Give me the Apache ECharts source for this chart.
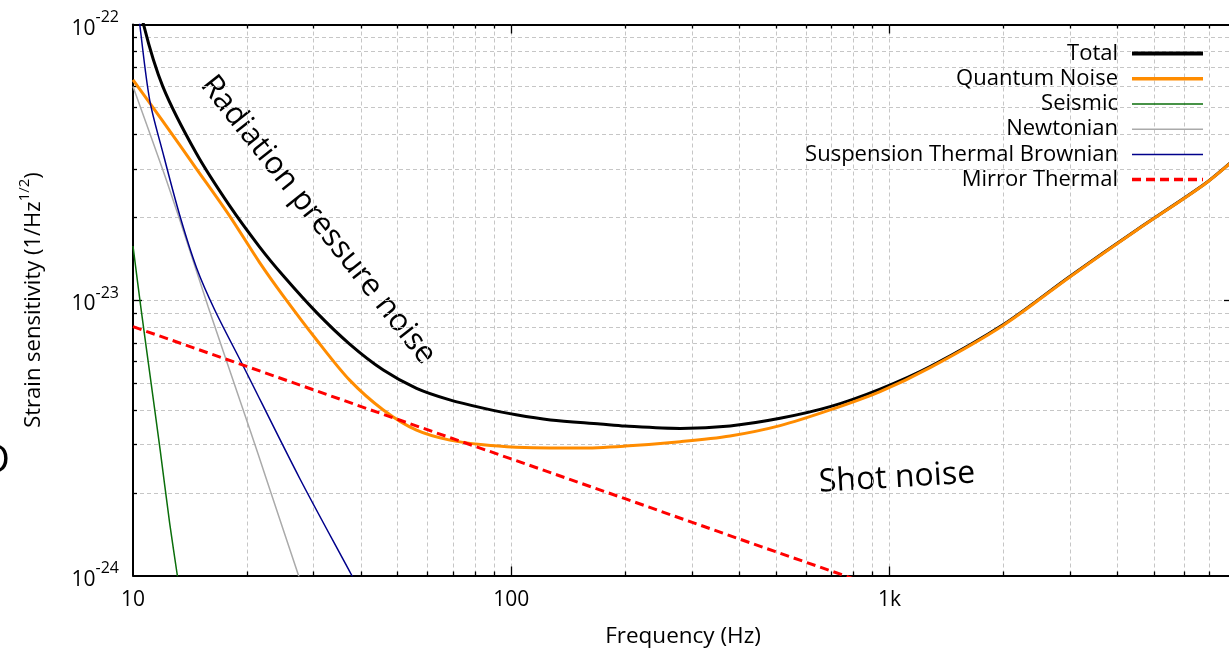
<!DOCTYPE html>
<html>
<head>
<meta charset="utf-8">
<title>Strain sensitivity</title>
<script src="https://cdn.jsdelivr.net/npm/echarts@6/dist/echarts.min.js"></script>
<style>
  html, body { margin: 0; padding: 0; background: #fff; overflow: hidden; }
  #chart { width: 1229px; height: 652px; }
</style>
</head>
<body>
<div id="chart"></div>
<script>
// strain values below are in units of 1e-24 (1/Hz^1/2); the log axis runs 1..100
const UNIT_EXP = -24;
const FONT = '"Open Sans", "Noto Sans", sans-serif';

const totalFreq = [10, 10.67, 12.0, 14.7, 18.0, 21.6, 24.9, 30.6, 37.4, 45.9, 56.2, 68.8, 84.3, 103, 127, 172, 200, 280, 379, 514, 697, 945, 1281, 2002, 3006, 4513, 6770, 8100];
const totalStrain = [160, 99.6, 59.4, 34.1, 22.0, 15.6, 12.3, 9.0, 6.92, 5.57, 4.78, 4.34, 4.05, 3.83, 3.67, 3.55, 3.49, 3.42, 3.49, 3.72, 4.10, 4.75, 5.73, 8.15, 12.2, 18.0, 26.2, 32.1];

const quantumFreq = [10, 12.0, 14.7, 18.0, 21.6, 24.9, 30.6, 37.4, 45.9, 56.2, 68.8, 84.3, 103, 127, 152, 200, 280, 379, 514, 697, 945, 1281, 2002, 3006, 4513, 6770, 8100];
const quantumStrain = [63, 44.5, 30.0, 20.2, 13.7, 10.4, 7.16, 5.12, 3.99, 3.37, 3.10, 2.98, 2.92, 2.90, 2.90, 2.95, 3.06, 3.21, 3.50, 3.99, 4.65, 5.68, 8.1, 12.15, 17.95, 26.15, 32.0];

const seismicFreq = [10, 10.5, 11.0, 11.8, 12.5, 13.1, 13.5];
const seismicStrain = [15.7, 9.3, 5.8, 2.85, 1.55, 1.0, 0.74];

const newtonianFreq = [10, 12.0, 13.3, 15.8, 20.4, 22.5, 27.4, 29.0];
const newtonianStrain = [59.5, 29.6, 19.5, 9.46, 3.37, 2.25, 1.0, 0.8];

const suspensionFreq = [10.2, 10.42, 11.07, 12.0, 13.29, 14.72, 16.45, 19.5, 27.6, 37.9, 40];
const suspensionStrain = [130, 100, 53.2, 34.2, 20.3, 13.1, 9.2, 5.81, 2.25, 1.0, 0.87];

const mirrorFreq = [10, 20, 50, 100, 200, 500, 760, 800];
const mirrorStrain = [8.0, 5.74, 3.69, 2.65, 1.90, 1.22, 1.0, 0.975];

// grid / tick positions
const xGridTicks = [20, 30, 40, 50, 60, 70, 80, 90, 100, 200, 300, 400, 500, 600, 700, 800, 900, 1000, 2000, 3000, 4000, 5000, 6000, 7000, 8000];
const yGridTicks = [2, 3, 4, 5, 6, 7, 8, 9, 10, 20, 30, 40, 50, 60, 70, 80, 90];
const xLabels = { 1: "10", 2: "100", 3: "1k" };

const zip = (xs, ys) => xs.map((x, i) => [x, ys[i]]);

function isDecade(v) {
  const l = Math.log10(v);
  return Math.abs(l - Math.round(l)) < 1e-6;
}

function renderGrid(isX) {
  return function (params, api) {
    const cs = params.coordSys;
    const v = api.value(isX ? 0 : 1);
    const len = isDecade(v) ? 9 : 4;
    const dash = { stroke: "#c6c6c6", lineWidth: 1, lineDash: [4, 3] };
    const tick = { stroke: "#000", lineWidth: 1.3 };
    if (isX) {
      const px = Math.round(api.coord([v, 10])[0]) + 0.5;
      const y0 = cs.y, y1 = cs.y + cs.height;
      return {
        type: "group",
        children: [
          { type: "line", shape: { x1: px, y1: y0, x2: px, y2: y1 }, style: dash },
          { type: "line", shape: { x1: px, y1: y1, x2: px, y2: y1 - len }, style: tick },
          { type: "line", shape: { x1: px, y1: y0, x2: px, y2: y0 + len }, style: tick },
        ],
      };
    }
    const py = Math.round(api.coord([100, v])[1]) + 0.5;
    const x0 = cs.x, x1 = cs.x + cs.width;
    return {
      type: "group",
      children: [
        { type: "line", shape: { x1: x0, y1: py, x2: x1, y2: py }, style: dash },
        { type: "line", shape: { x1: x0, y1: py, x2: x0 + len, y2: py }, style: tick },
        { type: "line", shape: { x1: x1, y1: py, x2: x1 - len, y2: py }, style: tick },
      ],
    };
  };
}

function lineSeries(name, freq, strain, color, width, extra) {
  return Object.assign({
    name: name,
    type: "line",
    data: zip(freq, strain),
    symbol: "none",
    smooth: 0.3,
    clip: true,
    z: 3,
    lineStyle: { color: color, width: width },
    itemStyle: { color: color },
    emphasis: { disabled: true },
  }, extra || {});
}

const chart = echarts.init(document.getElementById("chart"), null, { renderer: "canvas" });

const option = {
  animation: false,
  backgroundColor: "#fff",
  textStyle: { fontFamily: FONT },
  grid: { left: 133, right: -4, top: 24.5, bottom: 76.5, containLabel: false, outerBoundsMode: "none" },
  legend: {
    data: [
      { name: "Total", lineStyle: { width: 4 } },
      { name: "Quantum Noise", lineStyle: { width: 3.5 } },
      { name: "Seismic", lineStyle: { width: 1.5 } },
      { name: "Newtonian", lineStyle: { width: 1.5 } },
      { name: "Suspension Thermal Brownian", lineStyle: { width: 1.5 } },
      { name: "Mirror Thermal", lineStyle: { width: 3.5 } },
    ],
    orient: "vertical",
    right: 19,
    top: 36,
    align: "right",
    itemWidth: 71,
    itemHeight: 14,
    itemGap: 0,
    selectedMode: false,
    itemStyle: { opacity: 0, borderWidth: 0 },
    textStyle: { fontSize: 22, fontFamily: FONT, color: "#000", lineHeight: 25.2, padding: [0, 9, 0, 0] },
  },
  xAxis: [
    {
      type: "log",
      logBase: 10,
      min: 10,
      max: 8100,
      position: "bottom",
      axisLine: { show: true, onZero: false, lineStyle: { color: "#000", width: 2 } },
      axisTick: { show: false },
      splitLine: { show: false },
      minorTick: { show: false },
      axisLabel: {
        show: true,
        margin: 14,
        fontSize: 21,
        fontFamily: FONT,
        color: "#000",
        showMaxLabel: false,
        formatter: (v) => (isDecade(v) ? xLabels[Math.round(Math.log10(v))] || "" : ""),
      },
      name: "Frequency (Hz)",
      nameLocation: "middle",
      nameGap: 50,
      nameTextStyle: { fontSize: 22.5, fontFamily: FONT, color: "#000" },
    },
    {
      type: "log",
      logBase: 10,
      min: 10,
      max: 8100,
      position: "top",
      axisLine: { show: true, onZero: false, lineStyle: { color: "#000", width: 2 } },
      axisTick: { show: false },
      axisLabel: { show: false },
      splitLine: { show: false },
    },
  ],
  yAxis: {
    type: "log",
    logBase: 10,
    min: 1,
    max: 100,
    axisLine: { show: true, onZero: false, lineStyle: { color: "#000", width: 2 } },
    axisTick: { show: false },
    splitLine: { show: false },
    axisLabel: {
      margin: 14,
      color: "#000",
      formatter: (v) => "{b|10}{s|" + (Math.round(Math.log10(v)) + UNIT_EXP) + "}",
      rich: {
        b: { fontSize: 21, fontFamily: FONT, color: "#000", lineHeight: 30, verticalAlign: "bottom" },
        s: { fontSize: 16, fontFamily: FONT, color: "#000", lineHeight: 16, verticalAlign: "top" },
      },
    },
    name: "{n|Strain sensitivity (1/Hz}{s|1/2}{n|)}",
    nameLocation: "middle",
    nameGap: 88,
    nameTextStyle: {
      rich: {
        n: { fontSize: 22, fontFamily: FONT, color: "#000", lineHeight: 28, verticalAlign: "bottom" },
        s: { fontSize: 15, fontFamily: FONT, color: "#000", lineHeight: 15, verticalAlign: "top" },
      },
    },
  },
  graphic: [
    {
      type: "text",
      x: 318,
      y: 220,
      rotation: -0.9,
      silent: true,
      style: { text: "Radiation pressure noise", fontSize: 31, fontFamily: FONT, fill: "#000", align: "center", verticalAlign: "middle" },
    },
    {
      type: "text",
      x: 897,
      y: 478,
      rotation: 0.06,
      silent: true,
      style: { text: "Shot noise", fontSize: 32, fontFamily: FONT, fill: "#000", align: "center", verticalAlign: "middle" },
    },
    {
      type: "text",
      x: -19,
      y: 462,
      silent: true,
      style: { text: "D", fontSize: 40, fontFamily: FONT, fill: "#000", align: "left", verticalAlign: "middle" },
    },
  ],
  series: [
    {
      type: "custom",
      silent: true,
      z: 1,
      renderItem: renderGrid(true),
      data: xGridTicks.map((v) => [v, 10]),
      encode: { x: 0, y: 1 },
    },
    {
      type: "custom",
      silent: true,
      z: 1,
      renderItem: renderGrid(false),
      data: yGridTicks.map((v) => [100, v]),
      encode: { x: 0, y: 1 },
    },
    lineSeries("Total", totalFreq, totalStrain, "#000000", 3),
    lineSeries("Quantum Noise", quantumFreq, quantumStrain, "#ff8c00", 3),
    lineSeries("Seismic", seismicFreq, seismicStrain, "#0a6e0a", 1.5),
    lineSeries("Newtonian", newtonianFreq, newtonianStrain, "#aaaaaa", 1.5),
    lineSeries("Suspension Thermal Brownian", suspensionFreq, suspensionStrain, "#00008b", 1.5),
    lineSeries("Mirror Thermal", mirrorFreq, mirrorStrain, "#ff0000", 3, {
      smooth: false,
      lineStyle: { color: "#ff0000", width: 3, type: [9, 5] },
    }),
  ],
};

option && chart.setOption(option);
window.addEventListener("resize", () => {
  chart.resize();
});
</script>
</body>
</html>
